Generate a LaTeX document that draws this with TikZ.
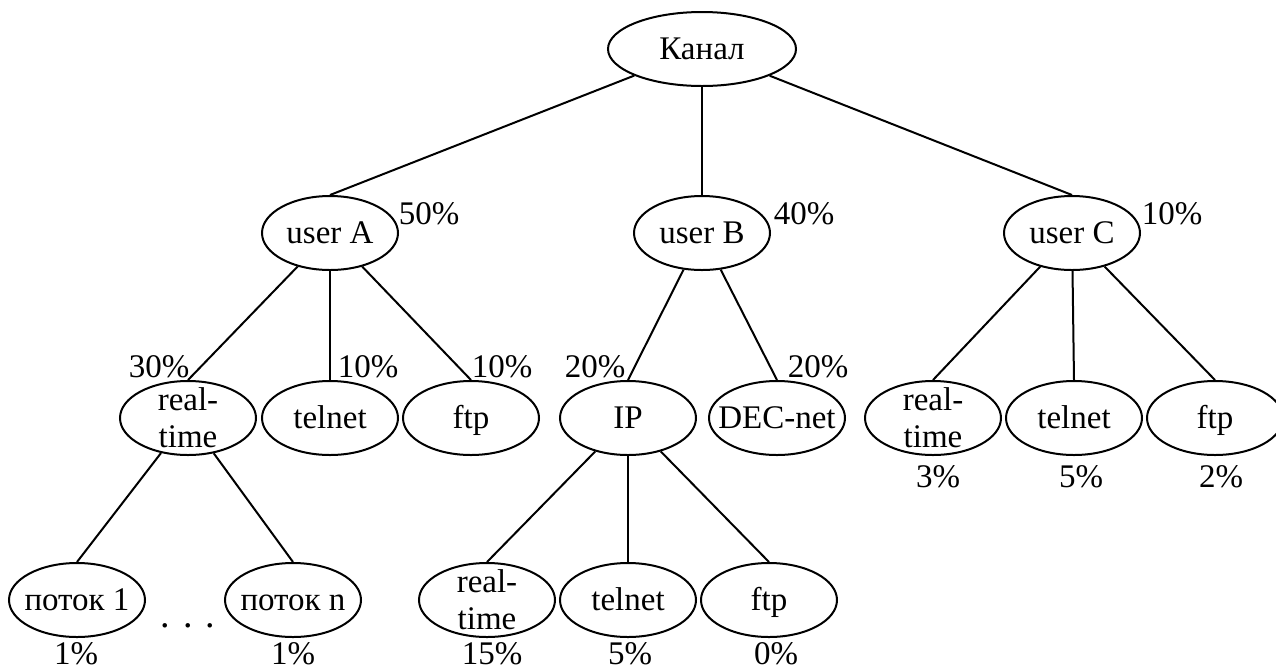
\documentclass[tikz,border=0pt]{standalone}
\usepackage{fontspec}
\setmainfont{Liberation Serif}
\usetikzlibrary{shapes.geometric}
\begin{document}
\begin{tikzpicture}[x=0.5pt, y=-0.5pt,
  every node/.style={font=\fontsize{16.5}{18.3}\selectfont},
  ellbase/.style={draw, ellipse, line width=1pt, minimum width=68pt, minimum height=37pt,
                  inner sep=-10pt},
  ell/.style={ellbase, text height=10.9pt, text depth=0pt},
  ell2/.style={ellbase, align=center},
  pct/.style={inner sep=0pt, text height=10.9pt, text depth=0pt},
  link/.style={line width=1pt}]
\useasboundingbox (0,0) rectangle (1276,671);

% root
\node[ell, minimum width=94pt] (root) at (702,49) {Канал};

% users
\node[ell] (ua) at (330,233) {user A};
\node[ell] (ub) at (702,233) {user B};
\node[ell] (uc) at (1072,233) {user C};

% second level
\node[ell2] (rta) at (188,418) {real-\\time};
\node[ell] (tna) at (330,418) {telnet};
\node[ell] (fta) at (471,418) {ftp};
\node[ell] (ip)  at (628,418) {IP};
\node[ell] (dec) at (777,418) {DEC-net};
\node[ell2] (rtc) at (933,418) {real-\\time};
\node[ell] (tnc) at (1074,418) {telnet};
\node[ell] (ftc) at (1215,418) {ftp};

% third level
\node[ell] (p1)  at (77,600)  {поток 1};
\node[ell] (pn)  at (293,600) {поток n};
\node[ell2] (rtb) at (487,600) {real-\\time};
\node[ell] (tnb) at (628,600) {telnet};
\node[ell] (ftb) at (769,600) {ftp};
\node[anchor=base, inner sep=0pt, font=\fontsize{19}{20}\selectfont] (dots) at (188,627)
  {.\hspace{6.5pt}.\hspace{6.5pt}.};

% shares
\node[pct] (pa) at (429,214) {50\%};
\node[pct] (pb) at (804,214) {40\%};
\node[pct] (pc) at (1172,214) {10\%};
\node[pct] (prta) at (159,367) {30\%};
\node[pct] (ptna) at (368,367) {10\%};
\node[pct] (pfta) at (502,367) {10\%};
\node[pct] (pip)  at (595,367) {20\%};
\node[pct] (pdec) at (818,367) {20\%};
\node[pct] (prtc) at (938,477) {3\%};
\node[pct] (ptnc) at (1081,477) {5\%};
\node[pct] (pftc) at (1221,477) {2\%};
\node[pct] (pp1)  at (76,654)  {1\%};
\node[pct] (ppn)  at (293,654) {1\%};
\node[pct] (prtb) at (492,654) {15\%};
\node[pct] (ptnb) at (630,654) {5\%};
\node[pct] (pftb) at (776,654) {0\%};

% connectors
\draw[link] (root) -- (ua.north);
\draw[link] (root) -- (ub.north);
\draw[link] (root) -- (uc.north);
\draw[link] (ua) -- (rta.north);
\draw[link] (ua) -- (tna.north);
\draw[link] (ua) -- (fta.north);
\draw[link] (ub) -- (ip.north);
\draw[link] (ub) -- (dec.north);
\draw[link] (uc) -- (rtc.north);
\draw[link] (uc) -- (tnc.north);
\draw[link] (uc) -- (ftc.north);
\draw[link] (rta) -- (p1.north);
\draw[link] (rta) -- (pn.north);
\draw[link] (ip) -- (rtb.north);
\draw[link] (ip) -- (tnb.north);
\draw[link] (ip) -- (ftb.north);
\end{tikzpicture}
\end{document}
